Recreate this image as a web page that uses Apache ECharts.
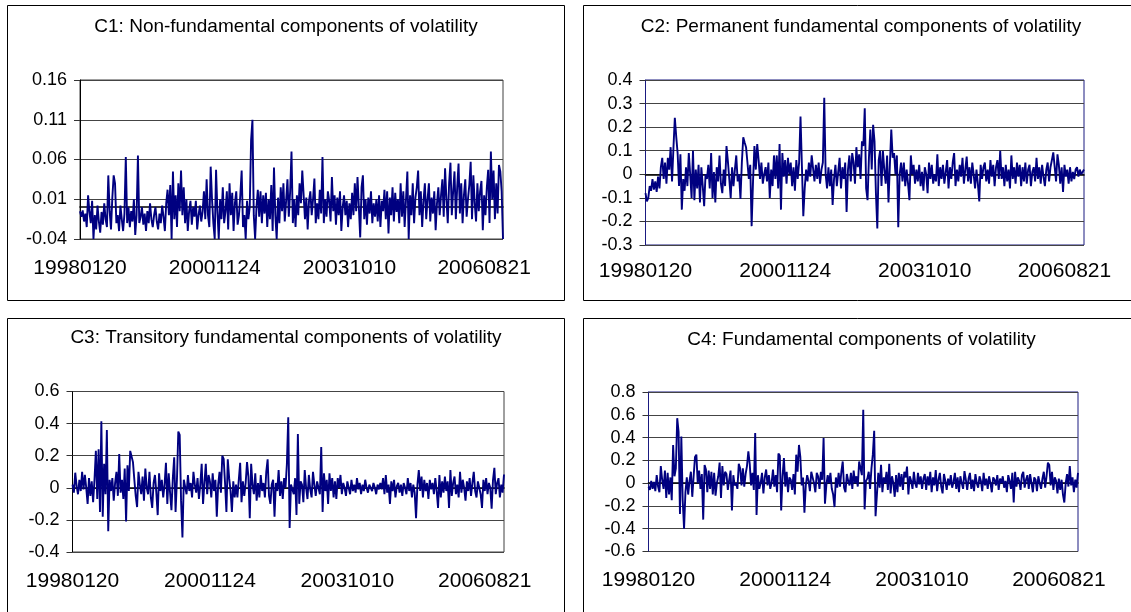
<!DOCTYPE html>
<html>
<head>
<meta charset="utf-8">
<script src="https://cdn.jsdelivr.net/npm/echarts@6/dist/echarts.min.js"></script>
<style>
html,body{margin:0;padding:0;background:#fff;}
#chart{width:1131px;height:612px;}
</style>
</head>
<body>
<div id="chart"></div>
<script>
// ---- data ----
const tickLabels = ['19980120', '20001124', '20031010', '20060821'];
const titles = [
  'C1: Non-fundamental components of volatility',
  'C2: Permanent fundamental components of volatility',
  'C3: Transitory fundamental components of volatility',
  'C4: Fundamental components of volatility'
];

const c1 = [
  -0.005, -0.012, -0.004, -0.018, -0.008, -0.025, 0.015, -0.006, -0.02, 0.008,
  -0.04, -0.01, -0.028, 0.002, -0.018, -0.032, -0.006, -0.022, 0.005, -0.015,
  -0.025, 0.04, -0.005, -0.028, 0.012, 0.04, 0.03, -0.02, -0.01, -0.03,
  0.002, -0.015, -0.03, -0.008, 0.063, -0.02, 0.0, -0.025, -0.005, -0.018,
  0.01, -0.035, -0.01, 0.065, -0.02, -0.012, 0.0, -0.022, -0.008, -0.03,
  -0.005, -0.02, 0.005, -0.015, -0.025, -0.01, 0.0, -0.018, -0.028, -0.008,
  -0.02, 0.002, -0.012, -0.03, 0.005, 0.022, -0.01, 0.028, -0.04, 0.045,
  -0.015, 0.015, -0.025, 0.03, -0.005, 0.046, -0.01, 0.025, -0.02, 0.01,
  -0.03, -0.005, 0.008, -0.022, 0.0, -0.012, 0.008, -0.028, -0.01, 0.002,
  -0.018, -0.006, 0.02, -0.015, 0.035, -0.01, -0.025, 0.051, 0.01, -0.02,
  -0.04, 0.047, -0.005, -0.04, 0.01, -0.015, 0.025, -0.02, -0.005, 0.02,
  -0.028, 0.03, -0.01, 0.018, -0.03, 0.005, 0.02, -0.022, -0.01, 0.015,
  0.046, -0.025, -0.01, -0.04, 0.008, -0.015, 0.0, 0.084, 0.11, -0.01,
  -0.04, 0.0, 0.022, -0.012, 0.02, -0.02, 0.015, -0.008, 0.018, -0.025,
  0.01, -0.015, 0.028, -0.03, 0.05, -0.01, -0.04, 0.012, -0.02, 0.025,
  -0.005, 0.03, -0.018, 0.008, 0.035, -0.012, 0.02, 0.07, -0.02, 0.01,
  -0.025, 0.015, -0.01, 0.03, 0.005, 0.046, 0.047, -0.015, 0.012, -0.028,
  0.008, 0.02, -0.01, 0.01, 0.036, -0.02, 0.005, -0.015, 0.022, -0.008,
  0.063, -0.02, 0.01, -0.012, 0.02, 0.008, -0.018, 0.038, -0.005, 0.015,
  -0.022, 0.012, -0.01, 0.02, -0.03, 0.0, 0.015, -0.01, 0.008, -0.025,
  0.005, -0.015, 0.018, -0.01, 0.03, -0.005, 0.038, 0.04, -0.038, 0.025,
  0.04, -0.015, 0.01, -0.022, 0.012, -0.008, 0.02, -0.02, 0.005, -0.012,
  0.01, -0.018, 0.015, -0.025, 0.008, -0.005, 0.022, -0.015, 0.02, -0.033,
  0.012, -0.01, 0.025, -0.018, 0.018, -0.006, 0.01, -0.02, 0.03, -0.012,
  0.02, -0.025, 0.01, 0.045, -0.04, 0.015, -0.01, 0.03, -0.02, 0.012,
  0.025, 0.046, -0.01, 0.02, -0.025, 0.008, 0.03, -0.015, 0.01, 0.03,
  -0.018, 0.012, -0.008, 0.02, -0.029, 0.005, 0.025, -0.01, 0.015, 0.035,
  -0.012, 0.049, 0.01, -0.02, 0.03, 0.056, -0.01, 0.02, 0.045, -0.015,
  0.025, 0.055, -0.008, 0.03, -0.02, 0.015, 0.035, -0.012, 0.01, 0.028,
  0.057, -0.015, 0.04, 0.005, -0.018, 0.03, -0.005, 0.02, 0.033, -0.029,
  0.015, -0.01, 0.025, 0.047, -0.02, 0.07, 0.01, 0.046, -0.015, 0.03,
  -0.008, 0.053, 0.045, 0.02, -0.04
];

const c2 = [
  -0.08, -0.115, -0.1, -0.05, -0.07, -0.02, -0.065, -0.03, -0.075, -0.01,
  -0.06, 0.03, 0.07, -0.02, 0.05, -0.04, 0.07, 0.02, 0.115, -0.03,
  0.11, 0.24, 0.16, 0.09, -0.05, 0.085, -0.15, -0.02, -0.07, 0.03,
  -0.05, 0.09, 0.0, -0.1, 0.1, -0.11, 0.02, -0.06, 0.04, -0.12,
  0.03, -0.05, -0.135, 0.0, -0.02, 0.04, -0.06, 0.09, -0.1, 0.01,
  -0.12, 0.03, -0.03, 0.08, -0.04, -0.08, 0.02, -0.05, 0.12, 0.055,
  -0.02, -0.1, 0.03, -0.05, 0.02, 0.08, -0.03, 0.0, -0.105, 0.05,
  0.157, 0.135, 0.115, 0.05, -0.02, 0.04, -0.22, -0.03, 0.12, 0.02,
  0.128, 0.06, -0.02, 0.05, -0.04, 0.0, 0.03, -0.03, 0.05, -0.1,
  0.02, -0.05, 0.08, -0.02, 0.08, -0.06, 0.128, -0.15, 0.09, -0.01,
  0.06, -0.04, 0.07, 0.0, 0.05, -0.05, 0.03, -0.07, 0.06, -0.02,
  0.05, 0.245, 0.035, -0.178, -0.06, 0.02, -0.03, 0.05, -0.01, 0.08,
  0.085, -0.03, 0.04, -0.02, 0.05, -0.04, 0.02, 0.05, 0.325, 0.0,
  -0.06, 0.03, -0.05, 0.02, -0.13, -0.02, 0.04, -0.05, 0.01, 0.07,
  -0.06, 0.03, -0.02, 0.05, -0.16, 0.02, 0.08, -0.03, 0.09, 0.05,
  -0.04, 0.115, 0.03, 0.085, -0.02, 0.14, 0.12, 0.28, -0.06, -0.11,
  0.07, 0.19, 0.02, 0.21, 0.14, -0.08, -0.23, 0.06, 0.1, -0.05,
  0.1, 0.02, -0.04, 0.08, -0.12, 0.04, 0.19, 0.07, 0.09, 0.0,
  0.08, -0.225, 0.0, 0.05, -0.03, 0.05, -0.05, 0.02, -0.04, -0.11,
  0.08, 0.0, 0.04, -0.04, 0.02, -0.03, 0.04, -0.05, 0.01, -0.07,
  0.03, 0.0, -0.08, 0.05, -0.02, 0.04, -0.04, 0.0, -0.03, 0.085,
  -0.05, 0.03, -0.02, 0.04, -0.04, 0.01, 0.06, -0.06, 0.03, -0.02,
  0.05, 0.09, -0.05, 0.02, -0.03, 0.04, -0.01, 0.07, -0.04, 0.02,
  0.075, -0.03, 0.03, -0.04, 0.05, 0.0, -0.06, 0.02, -0.04, -0.115,
  0.04, -0.02, 0.03, 0.05, -0.03, 0.02, -0.04, 0.06, -0.01, 0.04,
  -0.05, 0.03, 0.06, -0.02, 0.1, -0.02, 0.03, -0.05, 0.04, -0.03,
  0.02, -0.06, 0.08, -0.02, 0.03, -0.04, 0.05, -0.01, 0.04, -0.05,
  0.03, -0.03, 0.05, -0.04, 0.02, 0.04, -0.05, 0.01, 0.03, -0.03,
  0.07, -0.02, 0.03, -0.04, 0.04, -0.01, -0.05, 0.02, 0.05, -0.03,
  0.03, 0.06, 0.093, 0.09, -0.03, 0.085, 0.04, -0.04, 0.03, -0.075,
  0.04, -0.01, 0.02, -0.04, 0.03, -0.03, 0.01, -0.02, 0.02, 0.03,
  -0.01, 0.02, 0.0, 0.01, 0.02
];

const c3 = [
  0.02, -0.03, 0.094, 0.01, -0.04, 0.05, -0.02, 0.1, -0.01, 0.08,
  0.0, -0.1, 0.06, -0.05, 0.04, -0.09, 0.05, 0.23, -0.07, 0.24,
  -0.15, 0.415, -0.18, 0.15, -0.04, 0.36, -0.27, 0.05, -0.02, 0.06,
  -0.08, 0.03, 0.1, -0.05, 0.21, -0.03, 0.05, -0.07, 0.12, -0.21,
  0.14, -0.02, 0.23, 0.24, 0.16, 0.05, -0.05, -0.12, 0.1, 0.02,
  -0.04, 0.07, -0.08, 0.12, 0.0, -0.04, 0.1, -0.06, -0.125, 0.03,
  0.08, -0.03, -0.17, 0.09, -0.02, 0.05, -0.06, 0.02, 0.156, -0.1,
  0.09, -0.03, -0.14, 0.06, 0.19, -0.15, 0.05, 0.35, 0.33, -0.08,
  -0.31, 0.05, 0.04, -0.04, 0.08, -0.02, 0.03, -0.06, 0.1, 0.02,
  -0.03, 0.06, -0.07, 0.02, 0.15, -0.1, 0.03, 0.15, -0.04, 0.08,
  0.04, -0.06, 0.09, -0.02, 0.05, -0.18, 0.02, 0.1, -0.03, 0.2,
  0.18, 0.03, -0.15, 0.177, 0.06, -0.02, -0.15, 0.04, -0.06, 0.02,
  -0.06, 0.05, 0.156, -0.09, 0.04, -0.05, 0.03, 0.16, 0.07, -0.19,
  0.15, 0.02, -0.04, 0.09, -0.08, 0.03, -0.06, 0.08, -0.02, 0.03,
  -0.06, 0.1, 0.177, -0.05, -0.1, 0.02, 0.05, -0.18, 0.03, -0.02,
  0.11, -0.05, 0.04, -0.07, 0.06, 0.0, 0.146, 0.44, -0.25, 0.02,
  0.03, -0.04, 0.06, -0.17, 0.335, -0.1, 0.04, 0.02, -0.09, 0.11,
  0.0, -0.07, 0.08, -0.01, -0.06, 0.1, 0.02, -0.05, 0.04, 0.0,
  -0.04, 0.254, -0.15, 0.09, -0.02, 0.05, -0.1, 0.09, -0.02, 0.06,
  -0.06, 0.04, -0.07, 0.06, 0.0, 0.08, -0.04, 0.03, 0.0, -0.05,
  0.04, 0.0, -0.04, 0.05, -0.02, 0.02, -0.03, 0.06, -0.01, 0.03,
  -0.04, 0.02, -0.02, 0.05, 0.0, -0.03, 0.02, 0.01, -0.02, 0.03,
  0.0, -0.04, 0.02, -0.01, 0.03, -0.01, 0.06, -0.04, 0.08, -0.03,
  0.02, -0.1, 0.04, -0.02, 0.05, -0.06, 0.01, 0.03, -0.03, 0.02,
  -0.05, 0.03, 0.0, -0.04, 0.06, -0.02, 0.03, -0.06, 0.02, -0.03,
  -0.19, 0.02, 0.11, -0.02, 0.07, -0.06, 0.05, -0.02, 0.03, -0.07,
  0.05, -0.01, 0.03, -0.04, 0.06, -0.02, -0.125, 0.08, -0.06, 0.04,
  -0.03, 0.07, -0.02, 0.04, -0.125, 0.11, -0.05, 0.03, 0.07, -0.04,
  0.02, -0.06, 0.1, -0.03, 0.05, 0.0, -0.08, 0.04, -0.02, 0.06,
  -0.05, 0.03, 0.1, -0.02, -0.06, 0.04, 0.0, -0.04, -0.125, 0.05,
  -0.02, 0.06, -0.04, 0.03, 0.0, -0.13, 0.05, 0.125, -0.04, 0.03,
  0.06, -0.06, 0.02, -0.03, 0.083
];

const c4 = [
  -0.03, -0.06, 0.02, -0.05, 0.01, -0.07, 0.07, -0.03, -0.08, 0.15,
  0.03, -0.05, 0.11, -0.13, 0.09, -0.1, 0.05, -0.15, 0.335, 0.06,
  0.13, 0.57, 0.45, -0.27, 0.41, -0.15, -0.4, -0.08, 0.05, -0.1,
  0.02, 0.1, -0.12, 0.06, 0.23, 0.25, 0.0, 0.11, -0.05, 0.08,
  -0.32, 0.16, 0.12, -0.08, 0.11, -0.05, 0.1, -0.1, 0.09, -0.11,
  0.0, 0.06, 0.18, -0.13, 0.15, -0.02, 0.1, 0.08, -0.06, 0.03,
  0.11, -0.24, 0.07, -0.02, 0.0, -0.05, 0.17, 0.13, -0.02, 0.13,
  -0.03, 0.08, 0.15, 0.28, 0.17, -0.02, 0.09, -0.06, 0.44, -0.28,
  0.07, -0.05, 0.0, 0.09, -0.09, 0.05, 0.12, -0.02, 0.07, -0.05,
  0.0, 0.12, -0.03, 0.07, -0.08, 0.26, 0.24, -0.24, 0.06, 0.22,
  -0.03, 0.1, -0.08, 0.05, 0.03, -0.06, 0.08, -0.1, 0.25, 0.1,
  0.335, 0.23, -0.02, 0.05, -0.26, -0.02, 0.07, 0.02, -0.07, 0.1,
  0.05, 0.0, -0.08, 0.09, 0.06, -0.05, 0.1, 0.03, 0.395, -0.18,
  -0.02, 0.07, 0.0, 0.09, -0.05, -0.1, -0.21, 0.05, -0.04, 0.09,
  -0.03, 0.1, 0.19, -0.04, -0.08, 0.08, 0.02, -0.02, 0.09, -0.05,
  0.11, 0.0, 0.06, -0.03, 0.19, 0.19, 0.07, 0.645, -0.23, 0.02,
  0.04, 0.1, -0.05, 0.13, 0.25, 0.46, -0.29, -0.1, 0.09, -0.04,
  0.16, -0.08, 0.05, 0.0, 0.1, -0.06, 0.17, -0.09, 0.06, 0.0,
  -0.12, 0.07, -0.08, 0.09, -0.03, 0.08, -0.06, 0.1, 0.05, 0.145,
  -0.1, 0.06, 0.02, -0.05, 0.1, 0.0, -0.04, 0.09, -0.01, 0.06,
  -0.05, 0.04, 0.08, -0.06, 0.06, -0.02, 0.1, -0.08, 0.05, -0.02,
  0.115, -0.07, 0.03, 0.09, -0.03, -0.09, 0.08, 0.02, -0.06, 0.04,
  -0.02, 0.07, -0.04, 0.01, 0.09, -0.05, 0.05, -0.08, 0.06, 0.0,
  -0.05, 0.105, 0.03, -0.06, 0.04, 0.09, -0.05, 0.03, -0.07, 0.08,
  0.0, -0.04, 0.06, 0.02, -0.07, 0.09, -0.02, 0.04, -0.05, 0.06,
  0.0, -0.08, 0.05, 0.03, -0.02, 0.07, -0.06, 0.04, 0.0, 0.06,
  -0.04, 0.02, -0.08, 0.07, 0.02, -0.05, 0.09, -0.17, 0.1, -0.03,
  0.05, 0.02, -0.06, 0.07, 0.1, -0.04, 0.03, 0.07, -0.05, 0.08,
  0.0, -0.08, 0.05, 0.03, -0.07, 0.06, 0.0, -0.05, 0.04, 0.1,
  -0.04, 0.06, 0.18, 0.16, -0.02, 0.1, -0.06, 0.05, 0.02, -0.09,
  0.04, -0.06, 0.03, -0.1, -0.17, 0.0, 0.08, -0.03, 0.15, -0.02,
  0.05, -0.08, 0.03, -0.04, 0.09
];

const yMin = [-0.04, -0.3, -0.4, -0.6];
const yMax = [0.16, 0.4, 0.6, 0.8];
const yStep = [0.05, 0.1, 0.2, 0.2];

// ---- chart ----
const seriesData = [c1, c2, c3, c4];
const N = Math.max(c1.length, c2.length, c3.length, c4.length);
const categories = Array.from({length: N}, (_, i) => String(i));
const LABEL_EVERY = 100;

const FONT = "'Liberation Sans', Arial, sans-serif";
const NAVY = '#000080';

const panels = [
  {left: 80, top: 80, width: 423, height: 159, border: '#404040', xMargin: 19, tx: 286, ty: 27},
  {left: 645.5, top: 80, width: 438.5, height: 165, border: '#1a1a80', xMargin: 16, tx: 861, ty: 27},
  {left: 72.5, top: 391.5, width: 431.5, height: 160.5, border: '#404040', xMargin: 19, tx: 286, ty: 338},
  {left: 648.5, top: 392, width: 429.5, height: 159.5, border: '#1a1a80', xMargin: 18, tx: 861.5, ty: 340}
];

const grid = [], xAxis = [], yAxis = [], series = [], graphic = [];

panels.forEach((p, k) => {
  grid.push({
    left: p.left, top: p.top, width: p.width, height: p.height,
    show: true, borderColor: p.border, borderWidth: 1, backgroundColor: '#fff',
    containLabel: false
  });
  xAxis.push({
    type: 'category', gridIndex: k, data: categories, boundaryGap: false,
    position: 'bottom',
    axisLine: {show: false, onZero: false},
    axisTick: {show: false},
    splitLine: {show: false},
    axisLabel: {
      interval: LABEL_EVERY - 1, margin: p.xMargin, color: '#000',
      fontFamily: FONT, fontSize: 21,
      formatter: (v, idx) => tickLabels[Math.round(idx / LABEL_EVERY)] || ''
    }
  });
  xAxis.push({
    type: 'category', gridIndex: k, data: categories, boundaryGap: false,
    position: 'bottom',
    axisLine: {show: true, onZero: true, lineStyle: {color: '#000', width: 1.6}},
    axisTick: {show: false},
    axisLabel: {show: false},
    splitLine: {show: false}
  });
  yAxis.push({
    type: 'value', gridIndex: k, min: yMin[k], max: yMax[k], interval: yStep[k],
    axisLine: {show: true, onZero: false, lineStyle: {color: k % 2 ? '#1a1a80' : '#000', width: 1}},
    axisTick: {show: true, inside: false, length: 6, lineStyle: {color: '#333', width: 1}},
    splitLine: {show: true, lineStyle: {color: '#444', width: 1}},
    axisLabel: {
      margin: 13, color: '#000', fontFamily: FONT, fontSize: 18,
      formatter: v => String(parseFloat(v.toFixed(2)))
    }
  });
  series.push({
    type: 'line', xAxisIndex: 2 * k, yAxisIndex: k,
    data: seriesData[k], showSymbol: false, symbol: 'none',
    lineStyle: {color: NAVY, width: 1.9}, z: 3,
    animation: false
  });
  graphic.push({
    type: 'text', x: p.tx, y: p.ty, silent: true,
    style: {text: titles[k], font: '19px ' + FONT, fill: '#000', textAlign: 'center', textVerticalAlign: 'middle'}
  });
});

graphic.push(
  {type: 'rect', shape: {x: 7.5, y: 5.5, width: 557, height: 295}, style: {fill: 'none', stroke: '#000', lineWidth: 1}, silent: true, z: -1},
  {type: 'rect', shape: {x: 583.5, y: 5.5, width: 600, height: 295}, style: {fill: 'none', stroke: '#000', lineWidth: 1}, silent: true, z: -1},
  {type: 'rect', shape: {x: 7.5, y: 318.5, width: 557, height: 400}, style: {fill: 'none', stroke: '#000', lineWidth: 1}, silent: true, z: -1},
  {type: 'rect', shape: {x: 583.5, y: 318.5, width: 600, height: 400}, style: {fill: 'none', stroke: '#000', lineWidth: 1}, silent: true, z: -1}
);

const chart = echarts.init(document.getElementById('chart'), null, {renderer: 'canvas'});
chart.setOption({
  animation: false,
  backgroundColor: '#fff',
  grid, xAxis, yAxis, series, graphic
});
</script>
</body>
</html>
